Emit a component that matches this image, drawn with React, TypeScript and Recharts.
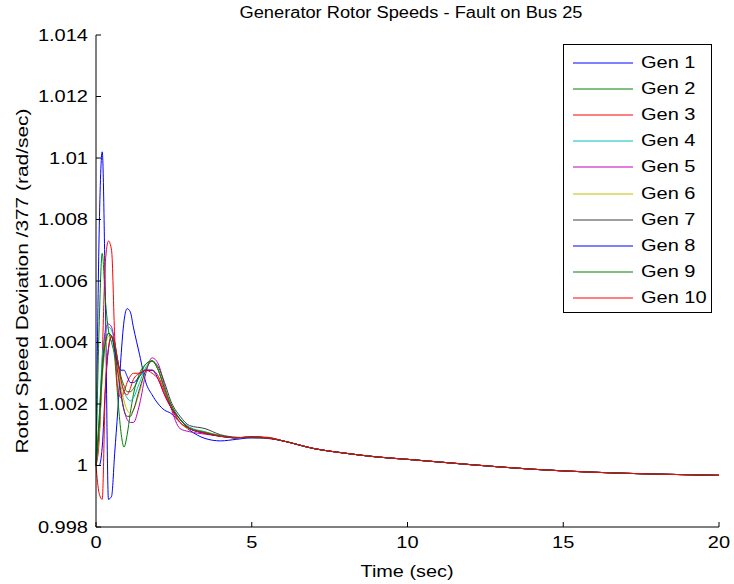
import React from "react";
import { LineChart, Line, XAxis, YAxis, Legend } from "recharts";

// time base (sec), finer through the first swing
const TIME = [
  0, 0.1, 0.2, 0.3, 0.4, 0.5, 0.6, 0.7, 0.8, 0.9, 1.0, 1.1, 1.2, 1.4, 1.6, 1.8,
  2.0, 2.2, 2.4, 2.7, 3.0, 3.5, 4.0, 4.5, 5.0, 5.5, 6.0, 7.0, 8.0, 9.0, 10, 12,
  14, 16, 18, 20,
];

// rotor speed / 377
const GEN_1 = [
  1.0, 1.0075, 1.0102, 1.0055, 0.9989, 0.999, 1.0004, 1.0018, 1.0035, 1.0047,
  1.0051, 1.005, 1.0045, 1.0036, 1.0027, 1.0023, 1.002, 1.0018, 1.0017, 1.0014,
  1.00115, 1.00088, 1.0008, 1.00085, 1.0009, 1.0009, 1.0008, 1.00055, 1.0004,
  1.00028, 1.0002, 1.00003, 0.99988, 0.99978, 0.99972, 0.99968,
];
const GEN_2 = [
  1.0, 1.0045, 1.0069, 1.0054, 1.0044, 1.004, 1.0035, 1.0022, 1.0011, 1.0006,
  1.001, 1.0017, 1.0023, 1.003, 1.0033, 1.0034, 1.0031, 1.0025, 1.002, 1.0015,
  1.0012, 1.00108, 1.00097, 1.0009, 1.00092, 1.0009, 1.0008, 1.00055, 1.0004,
  1.00028, 1.0002, 1.00003, 0.99988, 0.99978, 0.99972, 0.99968,
];
const GEN_3 = [
  1.0, 1.0008, 1.0035, 1.0066, 1.0073, 1.007, 1.0042, 1.0025, 1.0022, 1.0024,
  1.0027, 1.0029, 1.003, 1.003, 1.0031, 1.0031, 1.0029, 1.0024, 1.0019, 1.0014,
  1.0012, 1.00105, 1.00095, 1.0009, 1.00093, 1.00092, 1.0008, 1.00055, 1.0004,
  1.00028, 1.0002, 1.00003, 0.99988, 0.99978, 0.99972, 0.99968,
];
const GEN_4 = [
  1.0, 1.0015, 1.0035, 1.0043, 1.0045, 1.0044, 1.004, 1.0034, 1.0028, 1.0024,
  1.0022, 1.0021, 1.0022, 1.0027, 1.0032, 1.0034, 1.0031, 1.0025, 1.002, 1.0015,
  1.00125, 1.0011, 1.00097, 1.0009, 1.00093, 1.0009, 1.0008, 1.00055, 1.0004,
  1.00028, 1.0002, 1.00003, 0.99988, 0.99978, 0.99972, 0.99968,
];
const GEN_5 = [
  1.0, 1.001, 1.003, 1.0044, 1.0046, 1.0045, 1.004, 1.0032, 1.0024, 1.0018,
  1.0015, 1.0014, 1.0014, 1.002, 1.003, 1.0035, 1.0033, 1.0026, 1.0019, 1.0012,
  1.0011, 1.00102, 1.00095, 1.0009, 1.00093, 1.0009, 1.0008, 1.00055, 1.0004,
  1.00028, 1.0002, 1.00003, 0.99988, 0.99978, 0.99972, 0.99968,
];
const GEN_6 = [
  1.0, 1.001, 1.0028, 1.0038, 1.0042, 1.0042, 1.0038, 1.0032, 1.0026, 1.0021,
  1.0018, 1.0017, 1.0018, 1.0024, 1.0031, 1.0034, 1.0031, 1.0025, 1.002, 1.0014,
  1.00118, 1.00108, 1.00096, 1.0009, 1.00093, 1.0009, 1.0008, 1.00055, 1.0004,
  1.00028, 1.0002, 1.00003, 0.99988, 0.99978, 0.99972, 0.99968,
];
const GEN_7 = [
  1.0, 1.0012, 1.003, 1.004, 1.0043, 1.0042, 1.0037, 1.003, 1.0023, 1.0018,
  1.0016, 1.0016, 1.0018, 1.0025, 1.0031, 1.0034, 1.0032, 1.0027, 1.0021,
  1.0016, 1.0013, 1.0012, 1.001, 1.00092, 1.0009, 1.00088, 1.0008, 1.00055,
  1.0004, 1.00028, 1.0002, 1.00003, 0.99988, 0.99978, 0.99972, 0.99968,
];
const GEN_8 = [
  1.0, 1.0, 1.0006, 1.0025, 1.0038, 1.0042, 1.0038, 1.0033, 1.0031, 1.0031,
  1.0029, 1.0027, 1.0027, 1.0029, 1.0031, 1.0031, 1.0028, 1.0023, 1.0019,
  1.0015, 1.0012, 1.00105, 1.00095, 1.0009, 1.00093, 1.0009, 1.0008, 1.00055,
  1.0004, 1.00028, 1.0002, 1.00003, 0.99988, 0.99978, 0.99972, 0.99968,
];
const GEN_9 = [
  1.0, 1.0015, 1.0032, 1.004, 1.0043, 1.0042, 1.0039, 1.0034, 1.0029, 1.0026,
  1.0024, 1.0024, 1.0025, 1.0029, 1.0033, 1.0034, 1.0031, 1.0025, 1.002, 1.0015,
  1.00122, 1.00108, 1.00096, 1.0009, 1.00093, 1.0009, 1.0008, 1.00055, 1.0004,
  1.00028, 1.0002, 1.00003, 0.99988, 0.99978, 0.99972, 0.99968,
];
const GEN_10 = [
  1.0, 0.9991, 0.9989, 1.0025, 1.0038, 1.0042, 1.004, 1.0034, 1.0028, 1.0024,
  1.0023, 1.0025, 1.0028, 1.003, 1.0031, 1.003, 1.0028, 1.0023, 1.0019, 1.0014,
  1.0012, 1.00105, 1.00095, 1.0009, 1.00093, 1.0009, 1.0008, 1.00055, 1.0004,
  1.00028, 1.0002, 1.00003, 0.99988, 0.99978, 0.99972, 0.99968,
];

const X_TICKS = [0, 5, 10, 15, 20];
const Y_TICKS = [0.998, 1, 1.002, 1.004, 1.006, 1.008, 1.01, 1.012, 1.014];

// matlab's old default colour order
const SERIES = [
  { key: "g1", name: "Gen 1", color: "#0000ff", values: GEN_1 },
  { key: "g2", name: "Gen 2", color: "#008000", values: GEN_2 },
  { key: "g3", name: "Gen 3", color: "#ff0000", values: GEN_3 },
  { key: "g4", name: "Gen 4", color: "#00bfbf", values: GEN_4 },
  { key: "g5", name: "Gen 5", color: "#bf00bf", values: GEN_5 },
  { key: "g6", name: "Gen 6", color: "#bfbf00", values: GEN_6 },
  { key: "g7", name: "Gen 7", color: "#404040", values: GEN_7 },
  { key: "g8", name: "Gen 8", color: "#0000ff", values: GEN_8 },
  { key: "g9", name: "Gen 9", color: "#008000", values: GEN_9 },
  { key: "g10", name: "Gen 10", color: "#ff0000", values: GEN_10 },
];

const rows = TIME.map((t, i) => {
  const row: Record<string, number> = { t };
  SERIES.forEach((s) => (row[s.key] = s.values[i]));
  return row;
});

const FONT = '"Liberation Sans", Arial, sans-serif';
const STRETCH = 1.25; // matlab export text is wider than plain Arial
const TICK_LEN = 5;

const fmtY = (v: number) => String(Number(v.toFixed(3)));

// ticks point inward like matlab; each tick draws its own mark + label
const BottomTick = (props: any) => {
  const x = Number(props.x);
  const y = Number(props.y);
  const axisY = y - 10; // tickMargin
  return (
    <g>
      <line x1={x} x2={x} y1={axisY} y2={axisY - TICK_LEN} stroke="#000" strokeWidth={1} />
      <text
        transform={`translate(${x},${y}) scale(${STRETCH},1)`}
        textAnchor="middle"
        dy="0.71em"
        fontSize={16}
        fontFamily={FONT}
        fill="#000"
      >
        {props.payload.value}
      </text>
    </g>
  );
};

const LeftTick = (props: any) => {
  const x = Number(props.x);
  const y = Number(props.y);
  const axisX = x + 8; // tickMargin
  return (
    <g>
      <line x1={axisX} x2={axisX + TICK_LEN} y1={y} y2={y} stroke="#000" strokeWidth={1} />
      <text
        transform={`translate(${x},${y}) scale(${STRETCH},1)`}
        textAnchor="end"
        dy="0.355em"
        fontSize={16}
        fontFamily={FONT}
        fill="#000"
      >
        {fmtY(props.payload.value)}
      </text>
    </g>
  );
};

const noLabel = () => "";

// legend drawn in series order (recharts would sort it by name)
const LegendBox = () => (
  <div
    style={{
      width: 149,
      height: 269,
      boxSizing: "border-box",
      border: "1px solid #000",
      background: "#fff",
      paddingTop: 5,
      fontFamily: FONT,
      fontSize: 16,
      color: "#000",
    }}
  >
    {SERIES.map((s) => (
      <div key={s.key} style={{ display: "flex", alignItems: "center", height: 26.1 }}>
        <svg width={60} height={4} style={{ marginLeft: 9, flex: "none" }}>
          <line x1={0} x2={60} y1={2} y2={2} stroke={s.color} strokeWidth={1} />
        </svg>
        <span
          style={{
            marginLeft: 8,
            display: "inline-block",
            transform: `scaleX(${STRETCH})`,
            transformOrigin: "left center",
            whiteSpace: "nowrap",
          }}
        >
          {s.name}
        </span>
      </div>
    ))}
  </div>
);

export default function App() {
  return (
    <div style={{ position: "absolute", left: 0, top: 0, width: 734, height: 584, background: "#fff" }}>
      <LineChart width={734} height={584} data={rows} margin={{ top: 35, right: 15, bottom: 0, left: 0 }}>
        <XAxis
          xAxisId="b"
          dataKey="t"
          type="number"
          domain={[0, 20]}
          ticks={X_TICKS}
          interval={0}
          height={57}
          stroke="#000"
          tickLine={false}
          tickSize={0}
          tickMargin={10}
          tick={<BottomTick />}
        />
        <XAxis
          xAxisId="t"
          orientation="top"
          type="number"
          domain={[0, 20]}
          ticks={X_TICKS}
          interval={0}
          height={0}
          mirror
          stroke="#000"
          tickLine={{ stroke: "#000" }}
          tickSize={TICK_LEN}
          tickFormatter={noLabel}
        />
        <YAxis
          yAxisId="l"
          type="number"
          domain={[0.998, 1.014]}
          ticks={Y_TICKS}
          interval={0}
          width={96}
          stroke="#000"
          tickLine={false}
          tickSize={0}
          tickMargin={8}
          tick={<LeftTick />}
        />
        <YAxis
          yAxisId="r"
          orientation="right"
          type="number"
          domain={[0.998, 1.014]}
          ticks={Y_TICKS}
          interval={0}
          width={0}
          mirror
          stroke="#000"
          tickLine={{ stroke: "#000" }}
          tickSize={TICK_LEN}
          tickFormatter={noLabel}
        />
        <Legend
          layout="horizontal"
          verticalAlign="middle"
          align="center"
          content={<LegendBox />}
          wrapperStyle={{ left: 563, top: 44, width: 149, height: 269 }}
        />
        {SERIES.map((s) => (
          <Line
            key={s.key}
            xAxisId="b"
            yAxisId="l"
            type="monotone"
            dataKey={s.key}
            name={s.name}
            stroke={s.color}
            strokeWidth={1}
            dot={false}
            activeDot={false}
            isAnimationActive={false}
          />
        ))}
      </LineChart>
      <svg
        width={734}
        height={584}
        style={{ position: "absolute", left: 0, top: 0, pointerEvents: "none" }}
        fontFamily={FONT}
        fontSize={16}
      >
        <text x={411} y={18} textAnchor="middle" textLength={343} lengthAdjust="spacingAndGlyphs">
          Generator Rotor Speeds - Fault on Bus 25
        </text>
        <text x={407} y={577} textAnchor="middle" textLength={93} lengthAdjust="spacingAndGlyphs">
          Time (sec)
        </text>
        <text
          transform="translate(28,281) rotate(-90)"
          textAnchor="middle"
          textLength={345}
          lengthAdjust="spacingAndGlyphs"
        >
          Rotor Speed Deviation /377 (rad/sec)
        </text>
      </svg>
    </div>
  );
}
